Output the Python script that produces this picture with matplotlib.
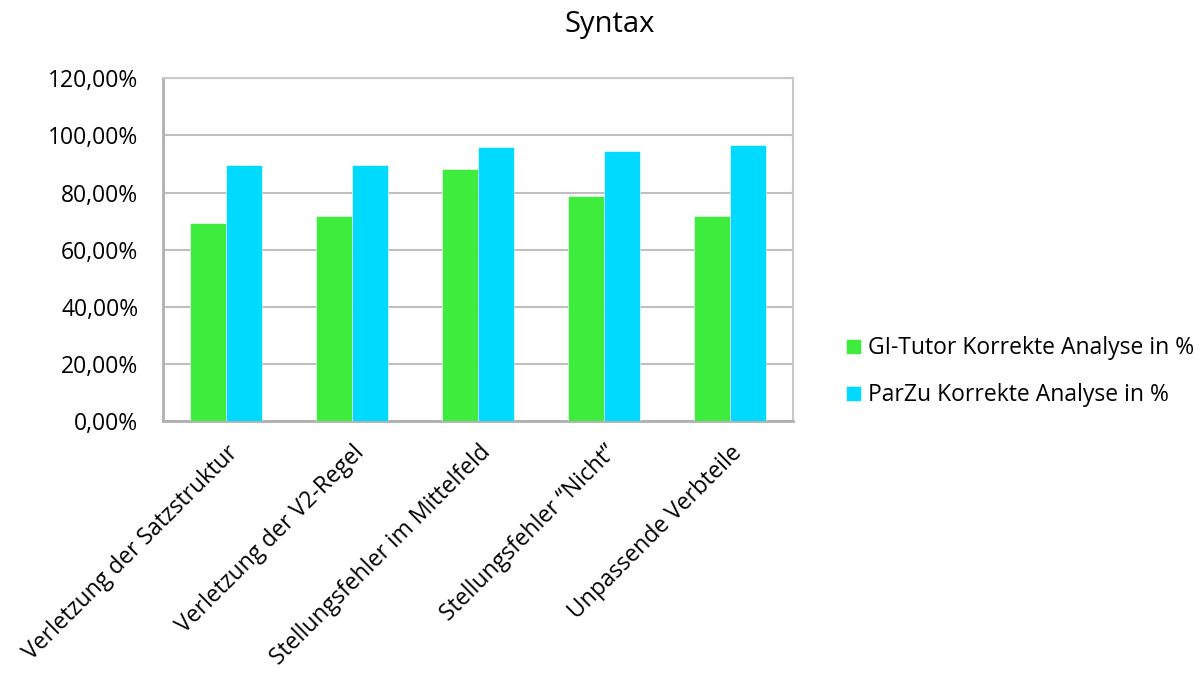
import matplotlib.pyplot as plt
import numpy as np
from matplotlib.ticker import FuncFormatter

plt.rcParams['font.family'] = ['Open Sans', 'DejaVu Sans']

categories = ["Verletzung der Satzstruktur", "Verletzung der V2-Regel",
              "Stellungsfehler im Mittelfeld", "Stellungsfehler \u201cNicht\u201d",
              "Unpassende Verbteile"]
gi_tutor = [69.4, 71.9, 88.3, 78.7, 71.7]
parzu = [89.7, 89.5, 95.9, 94.5, 96.6]
series_names = ["GI-Tutor Korrekte Analyse in %", "ParZu Korrekte Analyse in %"]

fig = plt.figure(figsize=(12, 6.75), dpi=100)
ax = fig.add_axes([0.136, 0.376, 0.525, 0.508])

x = np.arange(len(categories))
w = 0.286
ax.bar(x - w / 2, gi_tutor, w, color="#3EEC3E", edgecolor="white", linewidth=0.4,
       label=series_names[0], zorder=3)
ax.bar(x + w / 2, parzu, w, color="#00DAFF", edgecolor="white", linewidth=0.4,
       label=series_names[1], zorder=3)

ax.set_xlim(-0.5, len(categories) - 0.5)
ax.set_ylim(0, 120)
ax.set_yticks(np.arange(0, 121, 20))
ax.yaxis.set_major_formatter(FuncFormatter(lambda v, p: f"{v:.2f}%".replace(".", ",")))
ax.yaxis.grid(True, color="#BFBFBF", linewidth=1.5, zorder=0)
ax.tick_params(axis="y", length=0, labelsize=16.5, pad=18)
ax.tick_params(axis="x", length=0, labelsize=16.5, pad=14)
ax.set_xticks(x)
ax.set_xticklabels(categories, rotation=45, ha="right", rotation_mode="anchor")

for s in ["top", "right"]:
    ax.spines[s].set_color("#C8C8C8")
    ax.spines[s].set_linewidth(1.5)
ax.spines["left"].set_color("#B0B0B0")
ax.spines["left"].set_linewidth(2)
ax.spines["bottom"].set_color("#B0B0B0")
ax.spines["bottom"].set_linewidth(2)

fig.text(0.508, 0.963, "Syntax", ha="center", va="center", fontsize=21)

fig.legend(loc="center left", bbox_to_anchor=(0.688, 0.449), frameon=False,
           fontsize=16.5, handlelength=0.65, handleheight=0.65, handletextpad=0.3,
           labelspacing=1.0)

fig.savefig("out.png", dpi=100)
